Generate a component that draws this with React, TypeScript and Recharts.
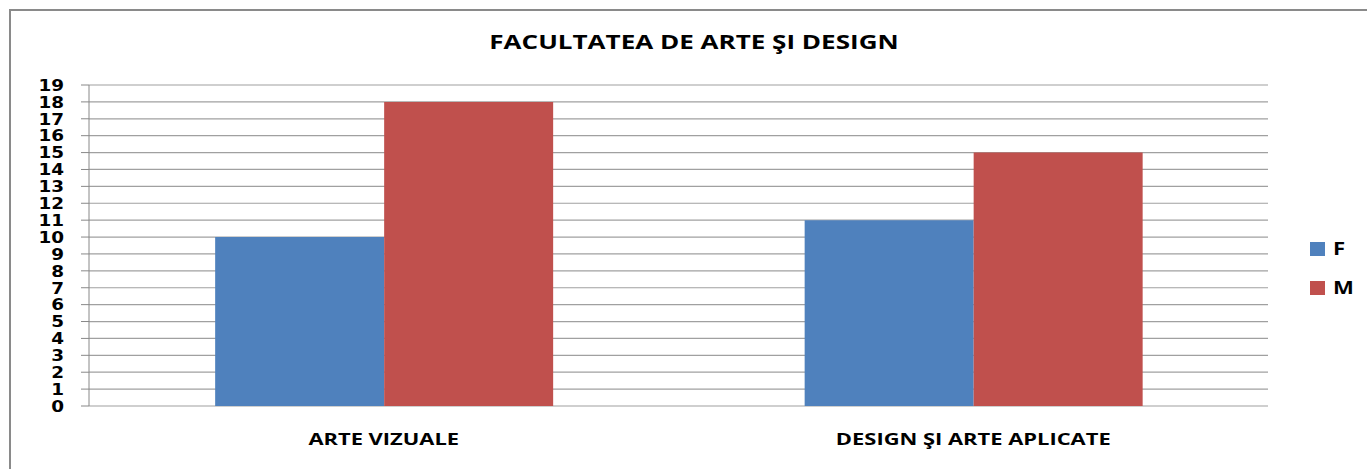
import React from "react";
import { BarChart, Bar, XAxis, YAxis, CartesianGrid, Legend } from "recharts";

const categories = ["ARTE VIZUALE", "DESIGN ŞI ARTE APLICATE"];
const valuesF = [10, 11];
const valuesM = [18, 15];
const yTicks = [0, 1, 2, 3, 4, 5, 6, 7, 8, 9, 10, 11, 12, 13, 14, 15, 16, 17, 18, 19];
const boundaryTicks = [0, 1, 2];

const data = categories.map((c, i) => ({ name: c, F: valuesF[i], M: valuesM[i], pos: i + 0.5 }));

// the source picture is stretched sideways, so the labels are too
const CatTick = ({ x, y, payload }: any) => (
  <g transform={`translate(${x},${y}) scale(1.37,1)`}>
    <text x={0} y={0} dy="0.71em" textAnchor="middle" fontFamily="Open Sans" fontWeight={700} fontSize={16} fill="#000">
      {payload.value}
    </text>
  </g>
);

const ValTick = ({ x, y, payload }: any) => (
  <g transform={`translate(${x},${y}) scale(1.15,1)`}>
    <text x={0} y={0} dy="0.36em" textAnchor="end" fontFamily="DejaVu Sans" fontWeight={700} fontSize={16} fill="#000">
      {payload.value}
    </text>
  </g>
);

const renderLegend = (props: any) => (
  <div>
    {props.payload.map((p: any) => (
      <div key={p.value} style={{ display: "flex", alignItems: "center", height: 39 }}>
        <span style={{ width: 15, height: 14, background: p.color, display: "inline-block", marginRight: 8 }} />
        <span style={{ fontFamily: "Open Sans", fontWeight: 700, fontSize: 17, color: "#000", display: "inline-block",
          transform: "scaleX(1.3)", transformOrigin: "left center" }}>{p.value}</span>
      </div>
    ))}
  </div>
);

export default function App() {
  return (
    <div style={{ position: "absolute", left: 0, top: 0, width: 1367, height: 469, overflow: "hidden", background: "#fff" }}>
      <div style={{ position: "absolute", left: 9, top: 9, width: 1400, height: 500, border: "2px solid #8a8a8a" }} />
      <div style={{ position: "absolute", left: 0, top: 29, width: 1388, textAlign: "center", transform: "scaleX(1.37)",
        fontFamily: "Open Sans", fontWeight: 700, fontSize: 19, color: "#000" }}>
        FACULTATEA DE ARTE ŞI DESIGN
      </div>
      <div style={{ position: "absolute", left: 0, top: 0 }}>
        <BarChart width={1367} height={469} data={data} margin={{ top: 85, right: 39, left: 0, bottom: 0 }}
          barCategoryGap="21.4%" barGap={0}>
          <CartesianGrid vertical={false} stroke="#a0a0a0" strokeWidth={1.2} />
          <XAxis xAxisId="cat" dataKey="name" height={63} tickLine={false} tickSize={0} tickMargin={28}
            axisLine={false} tick={<CatTick />} />
          <XAxis xAxisId="edge" type="number" dataKey="pos" domain={[0, 2]} ticks={boundaryTicks}
            height={0} tickSize={7} tickFormatter={() => ""} stroke="#888" axisLine={{ stroke: "#888" }} />
          <YAxis width={89} domain={[0, 19]} ticks={yTicks} interval={0} tickSize={8} tickMargin={17} stroke="#888"
            tick={<ValTick />} />
          <Legend layout="vertical" verticalAlign="top" align="right" content={renderLegend}
            wrapperStyle={{ left: 1310, top: 229, width: 60 }} />
          <Bar xAxisId="cat" dataKey="F" fill="#4F81BD" isAnimationActive={false} />
          <Bar xAxisId="cat" dataKey="M" fill="#C0504D" isAnimationActive={false} />
        </BarChart>
      </div>
    </div>
  );
}
